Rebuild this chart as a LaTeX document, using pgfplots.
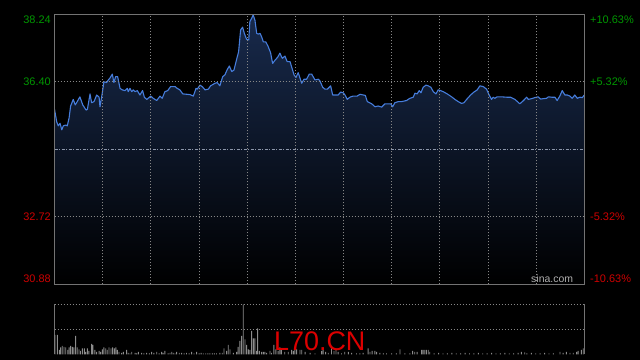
\documentclass[border=0pt]{standalone}
\usepackage{pgfplots}
\pgfplotsset{compat=1.18}
\usepackage{pgfplotstable}
\usepackage{fontspec}
\setmainfont{Liberation Sans}
\definecolor{upgreen}{RGB}{0,150,0}
\definecolor{downred}{RGB}{205,0,0}
\definecolor{linblue}{RGB}{70,125,220}
\definecolor{filltop}{RGB}{24,42,76}
\definecolor{gridgray}{RGB}{135,135,135}
\definecolor{framegray}{RGB}{115,115,115}
\definecolor{midline}{RGB}{140,150,170}
\definecolor{volgray}{RGB}{140,140,140}
\definecolor{sinagray}{RGB}{175,175,175}
\definecolor{wmred}{RGB}{220,0,0}

\pgfplotstableread{
t p
0 35.65
1.0 35.31
1.7 35.20
2.5 35.27
3.3 35.09
4.0 35.20
5.1 35.22
5.8 35.20
6.6 35.41
7.3 35.74
8.5 35.92
9.4 35.77
10.3 35.86
11.5 35.99
12.8 35.77
14.3 35.63
14.9 35.65
16.1 36.07
16.8 35.83
17.9 35.86
19.1 36.04
20.2 35.98
20.6 35.72
21.5 36.04
22.4 36.40
23.6 36.38
24.4 36.45
25.1 36.50
26.2 36.61
26.9 36.38
27.7 36.54
28.6 36.54
29.7 36.22
30.7 36.18
31.9 36.16
33.0 36.22
33.4 36.13
34.2 36.22
35.0 36.13
35.7 36.18
36.5 36.13
37.5 36.16
38.7 36.04
39.9 36.16
40.7 35.98
41.8 35.92
42.8 35.97
43.6 36.01
44.7 35.95
46.3 35.89
47.8 36.01
48.8 35.95
50.0 36.13
51.3 36.16
52.6 36.27
54.6 36.27
55.6 36.22
56.8 36.18
58.1 36.07
59.9 36.06
61.4 36.05
62.9 36.01
64.1 36.22
64.7 36.20
65.9 36.31
66.9 36.27
68.2 36.18
69.7 36.20
70.7 36.29
72.7 36.36
73.7 36.38
74.9 36.29
76.2 36.54
77.2 36.59
78.3 36.74
79.2 36.83
80.3 36.68
81.3 36.72
82.5 37.01
83.4 37.22
84.3 37.81
85.2 37.89
86.0 37.72
87.0 37.56
88.0 37.54
88.5 38.04
89.3 38.13
90.0 38.22
90.8 38.08
91.6 37.72
92.3 37.70
93.1 37.72
93.8 37.63
94.6 37.49
95.7 37.49
96.8 37.36
97.9 37.19
98.8 36.90
99.9 36.99
101.1 37.07
102.1 37.18
103.2 37.04
104.4 37.10
105.4 36.95
106.7 36.95
107.4 36.81
108.5 36.59
109.4 36.52
110.4 36.65
112.0 36.36
113.0 36.47
114.2 36.47
115.4 36.61
116.5 36.61
118.0 36.45
119.5 36.47
120.2 36.43
121.5 36.25
122.5 36.20
123.6 36.20
125.1 36.29
126.0 36.04
127.0 36.04
128.5 36.04
129.6 36.12
130.8 36.10
131.6 36.04
132.6 35.92
133.8 35.98
135.3 36.01
137.1 36.01
138.4 36.06
139.9 36.04
140.8 36.03
141.7 35.86
143.7 35.80
145.2 35.72
146.6 35.74
148.2 35.71
149.7 35.80
151.2 35.80
152.3 35.80
153.2 35.72
154.2 35.83
155.7 35.86
157.2 35.86
159.5 35.89
161.0 35.95
162.5 35.98
163.3 36.09
164.3 36.07
165.2 36.16
166.0 36.10
167.0 36.25
168.3 36.31
169.3 36.29
170.5 36.25
171.6 36.13
172.8 36.07
173.8 36.18
174.9 36.16
176.1 36.13
177.9 36.07
179.9 35.99
181.4 35.92
182.9 35.86
184.4 35.81
185.5 35.83
186.7 35.92
188.5 36.04
190.0 36.12
191.5 36.18
192.7 36.29
194.2 36.27
195.7 36.20
196.9 36.04
198.0 35.92
198.7 35.98
199.5 35.95
200.5 35.99
202.5 35.99
204.8 35.98
206.6 35.98
208.6 35.92
210.8 35.80
212.3 35.88
213.9 35.98
214.6 35.92
216.1 35.94
217.6 35.97
219.1 35.99
220.2 35.93
221.4 35.94
222.9 35.95
223.7 35.99
225.2 35.98
226.7 35.98
227.7 35.89
228.9 36.01
230.0 36.16
231.2 36.04
232.3 36.04
233.5 36.01
234.5 35.95
235.7 36.04
236.8 35.95
238.0 35.98
239.1 35.97
240 36.04
}\price

\pgfplotstableread{
t v
0.2 39
1.3 39
2.2 9
2.8 14
3.5 17
4.3 15
5.1 14
6.0 9
6.6 14
7.3 17
8.1 15
8.8 14
9.6 37
10.3 14
11.1 10
11.8 7
12.6 12
13.5 12
14.1 5
14.9 12
15.6 7
16.8 21
17.4 19
18.3 9
19.1 5
20.2 7
20.9 5
21.7 10
22.4 14
23.2 12
23.9 9
24.7 14
25.6 12
26.3 14
27.1 12
27.8 14
28.5 9
29.2 5
30.4 3
31.2 5
32.7 9
33.4 3
34.2 2
35.0 5
36.5 3
37.2 2
38.0 5
39.5 3
40.5 2
41.7 3
43.0 2
44.0 5
45.0 3
46.3 5
47.4 2
48.5 5
49.2 3
50.0 7
51.5 2
52.3 3
53.1 5
53.8 3
54.6 2
55.3 5
56.5 3
57.6 3
58.7 2
59.8 3
61.0 2
62.1 5
63.2 2
64.4 5
65.5 2
66.4 3
67.4 2
68.5 2
69.5 2
70.4 2
71.5 2
72.4 2
73.4 2
74.9 3
76.0 3
76.8 12
78.0 7
78.7 19
79.5 10
81.0 3
82.5 5
83.2 15
84.0 27
84.8 37
85.5 100
86.3 30
87.0 19
87.8 10
88.5 9
89.3 47
90.1 32
90.8 32
91.5 7
92.0 52
92.8 7
93.8 5
94.6 5
95.3 5
96.1 3
97.6 7
98.3 3
99.4 19
100.3 10
101.3 7
102.1 14
102.8 9
104.3 5
105.9 5
107.4 9
108.2 7
108.9 14
109.7 10
111.2 9
112.0 9
113.5 5
115.8 3
118.0 2
121.0 7
121.7 10
122.8 5
124.0 3
125.5 12
126.6 7
127.5 10
128.5 5
130.0 2
131.5 5
133.1 5
134.6 3
136.8 2
138.3 2
139.8 3
142.1 12
142.9 5
143.9 7
145.1 7
145.9 5
147.4 3
149.0 2
150.4 2
152.7 2
154.9 2
156.5 10
158.7 2
161.0 2
162.2 7
163.2 5
164.3 5
166.3 9
167.0 9
167.8 9
168.5 9
169.3 9
170.0 5
172 2
174 3
176 2
178 2
180 3
182 2
184 2
186 3
188 2
190 2
192 3
194 2
196 2
198 3
200 2
202 2
204 3
206 2
208 2
210 3
211.5 5
213 4
214 2
216 3
218 2
220 2
222 3
224 2
226 2
229.0 5
230.4 3
231.9 5
233.5 3
235.0 3
236.5 5
237.2 7
238.7 9
239.5 12
}\vol

\begin{document}
\begin{tikzpicture}
\fill[black] (0bp,0bp) rectangle (640bp,360bp);

% price panel
\begin{axis}[
  at={(54.5bp,75.7bp)}, anchor=south west, scale only axis,
  width=529.8bp, height=270bp,
  xmin=0, xmax=240, ymin=30.88, ymax=38.24,
  xtick={21.818,43.636,65.455,87.273,109.091,130.909,152.727,174.545,196.364,218.182},
  ytick={32.72,36.40},
  xticklabels={}, yticklabels={},
  major tick length=0pt,
  grid=major,
  major grid style={gridgray, line width=0.8bp, dash pattern=on 1bp off 2bp},
  axis line style={framegray, line width=0.8bp},
  axis on top=true,
]
\addplot[draw=none, top color=filltop, bottom color=black] table[x=t,y=p] {\price} |- (axis cs:0,30.88) -- cycle;
\addplot[midline, line width=0.8bp, dash pattern=on 3bp off 1.5bp on 1bp off 1.5bp] coordinates {(0,34.56) (240,34.56)};
\addplot[linblue, line width=1.1bp, line join=round] table[x=t,y=p] {\price};
\end{axis}

% volume panel
\begin{axis}[
  at={(54.5bp,5.7bp)}, anchor=south west, scale only axis,
  width=529.8bp, height=50bp,
  xmin=0, xmax=240, ymin=0, ymax=100,
  xtick=\empty, ytick={50,100},
  yticklabels={},
  major tick length=0pt,
  ymajorgrids=true,
  major grid style={gridgray, line width=0.8bp, dash pattern=on 1bp off 2bp},
  separate axis lines,
  x axis line style={draw=none},
  y axis line style={framegray, line width=0.8bp},
]
\addplot[ybar, bar width=0.9bp, fill=volgray, draw=none] table[x=t,y=v] {\vol};
\end{axis}

% price and percent labels
\begin{scope}[every node/.style={inner sep=0pt, font=\fontsize{11}{13}\selectfont}]
\node[anchor=east, text=upgreen] at (51bp,339.8bp) {38.24};
\node[anchor=east, text=upgreen] at (51bp,278.2bp) {36.40};
\node[anchor=east, text=downred] at (51bp,143.2bp) {32.72};
\node[anchor=east, text=downred] at (51bp,81.7bp) {30.88};
\node[anchor=west, text=upgreen] at (590bp,339.8bp) {+10.63\%};
\node[anchor=west, text=upgreen] at (590bp,278.2bp) {+5.32\%};
\node[anchor=west, text=downred] at (590bp,143.2bp) {-5.32\%};
\node[anchor=west, text=downred] at (590bp,81.7bp) {-10.63\%};
\end{scope}
\node[anchor=base east, inner sep=0pt, text=sinagray, font=\fontsize{10.5}{12}\selectfont] at (573.3bp,77bp) {sina.com};
\node[anchor=base west, inner sep=0pt, text=wmred, font=\fontsize{27}{30}\selectfont] at (274bp,10bp) {L70.CN};

\pgfresetboundingbox
\path (0bp,0bp) rectangle (640bp,360bp);
\end{tikzpicture}
\end{document}
